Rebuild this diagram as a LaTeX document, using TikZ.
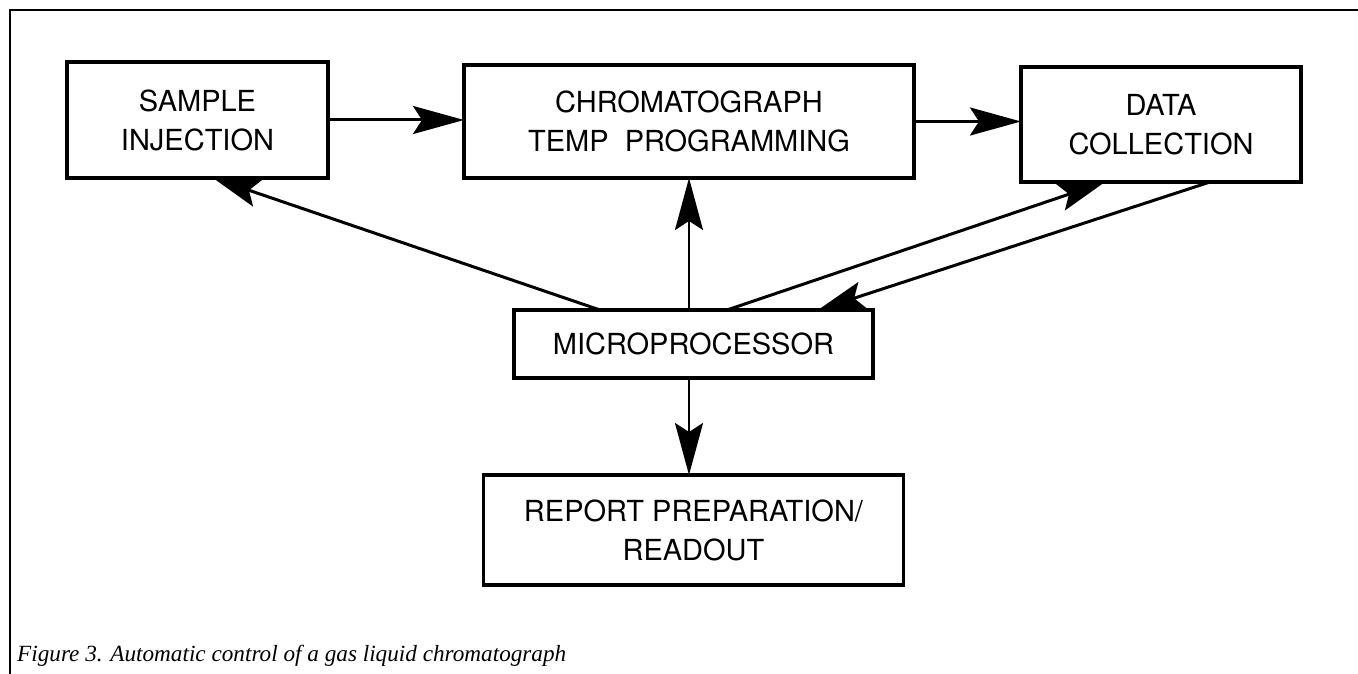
\documentclass[tikz,border=0pt]{standalone}
\usepackage{fontspec}
\setmainfont{Liberation Serif}
\setsansfont{TeX Gyre Heros}
\usepackage{tikz}
\usetikzlibrary{arrows.meta, positioning}

\begin{document}
\begin{tikzpicture}[
    x=1pt, y=1pt,
    box/.style={draw, line width=3.2pt, outer sep=0pt, inner sep=0pt, align=center,
      font=\sffamily\fontsize{29}{39}\selectfont},
    flow/.style={-{Stealth[length=51pt, width=28pt, inset=9pt]}, line width=3pt},
    slant/.style={-{Stealth[length=47pt, width=28pt, inset=9pt]}, line width=3pt},
    upline/.style={-{Stealth[length=52pt, width=28pt, inset=9pt]}, line width=2.6pt},
  ]
  \useasboundingbox (0,0) rectangle (1358,-674);
  % page frame
  \draw[line width=2pt] (10,-674) -- (10,-10) -- (1358,-10);
  % Controller
  \node[box, minimum width=359pt, minimum height=68pt] (micro) at (693.5,-344) {MICROPROCESSOR};
  % Stages
  \node[box, minimum width=261pt, minimum height=116pt, above left=132pt and 186pt of micro] (inject) {SAMPLE\\INJECTION};
  \node[box, minimum width=450pt, minimum height=113pt, above=132pt of micro, xshift=-4.5pt] (chrom) {CHROMATOGRAPH\\TEMP\ \ PROGRAMMING};
  \node[box, minimum width=280pt, minimum height=115pt, above right=128pt and 148pt of micro] (data) {DATA\\COLLECTION};
  \node[box, minimum width=420pt, minimum height=110pt, below=97pt of micro] (report) {REPORT PREPARATION/\\READOUT};
  % Caption
  \node[anchor=base west, inner sep=0pt, font=\itshape\fontsize{23.2}{27}\selectfont] (figcap) at (17,-661)
    {Figure 3. Automatic control of a gas liquid chromatograph};
  % Sample flow
  \draw[flow] (inject.east) -- (inject.east -| chrom.west);
  \draw[flow] (chrom.east) -- (chrom.east -| data.west);
  % Control lines
  \draw[slant] ([xshift=-93.5pt]micro.north) -- ([xshift=15.5pt]inject.south);
  \draw[upline] (chrom.south |- micro.north) -- (chrom.south);
  \draw[slant] ([xshift=33.5pt]micro.north) -- ([xshift=-56pt]data.south);
  \draw[slant] ([xshift=49pt]data.south) -- ([xshift=124.5pt]micro.north);
  \draw[upline] (chrom.south |- micro.south) -- (chrom.south |- report.north);
\end{tikzpicture}
\end{document}
